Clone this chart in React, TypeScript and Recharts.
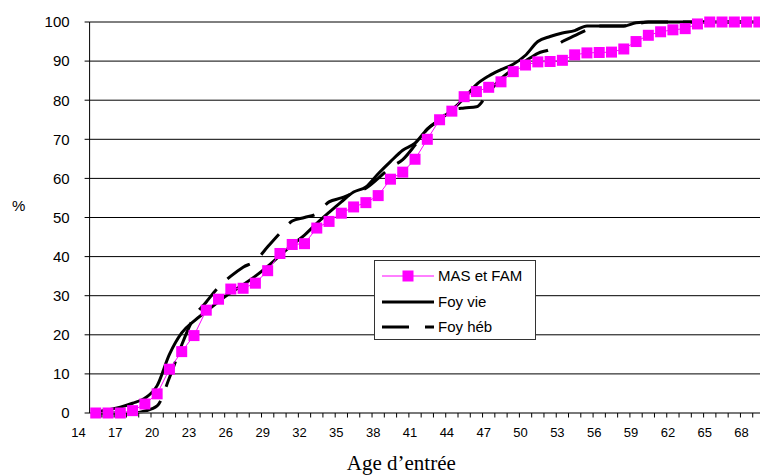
import React from 'react';
import { LineChart, Line, XAxis, YAxis, CartesianGrid, Legend } from 'recharts';

// Ages (categories)
const ages = [
  15, 16, 17, 18, 19, 20, 21, 22, 23, 24,
  25, 26, 27, 28, 29, 30, 31, 32, 33, 34,
  35, 36, 37, 38, 39, 40, 41, 42, 43, 44,
  45, 46, 47, 48, 49, 50, 51, 52, 53, 54,
  55, 56, 57, 58, 59, 60, 61, 62, 63, 64,
  65, 66, 67, 68, 69,
];

// Cumulative % by age of entry
const masEtFam = [
  0, 0, 0, 0.6, 2.3, 4.9, 11.2, 15.7, 19.8, 26.3,
  29.1, 31.7, 31.9, 33.2, 36.4, 40.8, 43.1, 43.3, 47.3, 49,
  51.1, 52.7, 53.8, 55.6, 59.8, 61.6, 64.9, 70, 75, 77.2,
  80.9, 82.2, 83.3, 84.7, 87.3, 89, 89.8, 89.9, 90.2, 91.6,
  92.1, 92.2, 92.3, 93.1, 95, 96.6, 97.5, 98, 98.3, 99.5,
  100, 100, 100, 100, 100,
];

const foyVie = [
  0.3, 0.8, 1.5, 2.5, 3.8, 7, 15, 20.5, 23.5, 26,
  28.5, 30.8, 32.8, 35, 37.5, 40.3, 43, 45.5, 48.5, 51.3,
  54, 56.5, 57.8, 61.2, 64.3, 67.2, 69, 72.6, 75, 77.5,
  80.5, 84, 86.2, 87.8, 89.2, 91.5, 95, 96.3, 97.2, 97.8,
  99, 99, 99, 99, 99.8, 100, 100, 100, 100, 100,
  100, 100, 100, 100, 100,
];

const foyHeb = [
  0, 0, 0, 0, 0.5, 1.8, 9, 17.4, 24.5, 28.4,
  32.2, 35, 37.3, 38.9, 42.5, 46, 49.1, 50, 51, 54,
  55, 56.3, 57.5, 60, 62.8, 64.8, 68.5, 72.6, 75, 77.5,
  78, 78.3, 82, 85.5, 88, 90, 92, 93, 95, 96.5,
  98, 99, 99, 99, 99.5, 100, 100, 100, 100, 100,
  100, 100, 100, 100, 100,
];

const xTickLabels = [14, 17, 20, 23, 26, 29, 32, 35, 38, 41, 44, 47, 50, 53, 56, 59, 62, 65, 68];
const yTicks = [0, 10, 20, 30, 40, 50, 60, 70, 80, 90, 100];

const seriesNames = { mas: 'MAS et FAM', vie: 'Foy vie', heb: 'Foy héb' };

const data = ages.map((age, i) => ({
  age,
  mas: masEtFam[i],
  vie: foyVie[i],
  heb: foyHeb[i],
}));

// tick marks sit between categories, labels on categories
const boundaryTicks = ages.slice(0, -1).map((a) => a + 0.5);
const allXTicks = [...xTickLabels, ...boundaryTicks].sort((a, b) => a - b);

const MAGENTA = '#FF00FF';
const SANS = "'Liberation Sans', Arial, sans-serif";
const DASH = '27 15';

const XTick = (props: any) => {
  const { x, y, payload } = props;
  const v = payload.value;
  if (xTickLabels.includes(v)) {
    return (
      <text
        x={x}
        y={y}
        dx={-5}
        dy={16}
        textAnchor="middle"
        fill="#000"
        fontSize={13}
        fontFamily="'Liberation Sans Narrow', 'Liberation Sans', Arial, sans-serif"
      >
        {v}
      </text>
    );
  }
  return <line x1={x} x2={x} y1={y - 8} y2={y - 3.5} stroke="#000" strokeWidth={1} />;
};

const SquareDot = (props: any) => {
  const { cx, cy, index } = props;
  if (cx == null || cy == null) return <g key={`d-${index}`} />;
  return <rect key={`d-${index}`} x={cx - 5.5} y={cy - 5.5} width={11} height={11} fill={MAGENTA} />;
};

const LegendBox = () => {
  const row = (top: number, sample: React.ReactNode, label: string) => (
    <div style={{ position: 'absolute', left: 6, top, height: 18, display: 'flex', alignItems: 'center' }}>
      <svg width={54} height={14} style={{ display: 'block' }}>{sample}</svg>
      <span style={{ marginLeft: 3, fontSize: 15, fontFamily: SANS, color: '#000', lineHeight: '18px', whiteSpace: 'nowrap' }}>
        {label}
      </span>
    </div>
  );
  return (
    <div
      style={{
        position: 'relative',
        width: 162,
        height: 80,
        boxSizing: 'border-box',
        border: '1px solid #333',
        background: '#fff',
      }}
    >
      {row(
        6,
        <g>
          <line x1={1} x2={53} y1={7} y2={7} stroke={MAGENTA} strokeWidth={1} />
          <rect x={21.5} y={1.5} width={11} height={11} fill={MAGENTA} />
        </g>,
        seriesNames.mas,
      )}
      {row(32, <line x1={1} x2={53} y1={7} y2={7} stroke="#000" strokeWidth={3} />, seriesNames.vie)}
      {row(
        57,
        <line x1={1} x2={53} y1={7} y2={7} stroke="#000" strokeWidth={3} strokeDasharray="27 16" />,
        seriesNames.heb,
      )}
    </div>
  );
};

export default function App() {
  return (
    <div style={{ position: 'absolute', left: 0, top: 0, width: 760, height: 476, overflow: 'hidden', background: '#fff' }}>
      <LineChart width={765} height={476} data={data} margin={{ top: 22, right: 0, left: 0, bottom: 0 }}>
        <CartesianGrid vertical={false} horizontal stroke="#000" strokeWidth={1} />
        <XAxis
          dataKey="age"
          type="number"
          domain={[14.5, 69.5]}
          ticks={allXTicks}
          interval={0}
          tick={<XTick />}
          tickLine={false}
          axisLine={{ stroke: '#777', strokeWidth: 1.5 }}
          height={63}
          label={{
            value: 'Age d’entrée',
            position: 'insideBottom',
            offset: 6,
            dx: -26,
            fill: '#000',
            fontSize: 21,
            fontFamily: "'Liberation Serif', 'Times New Roman', serif",
          }}
        />
        <YAxis
          type="number"
          domain={[0, 100]}
          ticks={yTicks}
          interval={0}
          width={89.6}
          tickSize={5}
          tickMargin={15}
          tick={{ fill: '#000', fontSize: 15, fontFamily: SANS }}
          tickLine={{ stroke: '#000' }}
          axisLine={{ stroke: '#000' }}
          label={{
            value: '%',
            position: 'insideLeft',
            offset: 12,
            dy: -12,
            fill: '#000',
            fontSize: 15,
            fontFamily: SANS,
          }}
        />
        <Legend
          layout="vertical"
          align="center"
          verticalAlign="middle"
          content={() => <LegendBox />}
          wrapperStyle={{ left: 374, top: 260, width: 162, height: 80 }}
        />
        <Line
          dataKey="heb"
          name={seriesNames.heb}
          type="monotone"
          stroke="#000"
          strokeWidth={3}
          strokeDasharray={DASH}
          dot={false}
          activeDot={false}
          isAnimationActive={false}
        />
        <Line
          dataKey="vie"
          name={seriesNames.vie}
          type="monotone"
          stroke="#000"
          strokeWidth={3}
          dot={false}
          activeDot={false}
          isAnimationActive={false}
        />
        <Line
          dataKey="mas"
          name={seriesNames.mas}
          type="linear"
          stroke={MAGENTA}
          strokeWidth={1}
          dot={<SquareDot />}
          activeDot={false}
          isAnimationActive={false}
        />
      </LineChart>
    </div>
  );
}
